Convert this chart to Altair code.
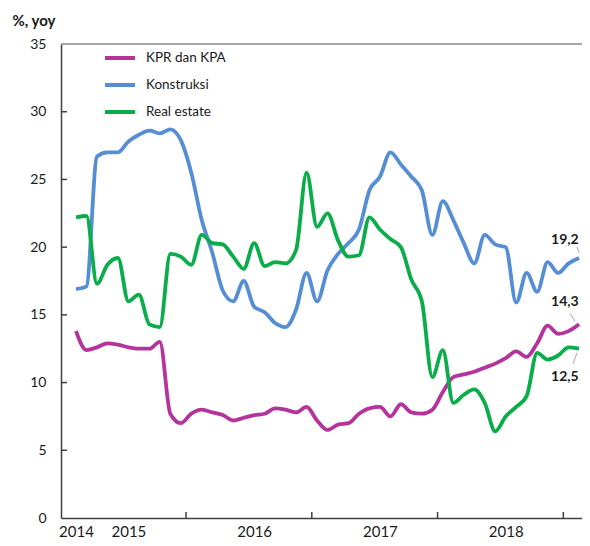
import altair as alt
import pandas as pd

# Monthly index: 0 = Aug 2014 ... 48 = Aug 2018
months = list(range(49))

kpr = [13.8, 12.4, 12.6, 12.9, 12.8, 12.6, 12.5, 12.5, 13.0, 7.7, 7.0, 7.7,
       8.0, 7.8, 7.6, 7.2, 7.4, 7.6, 7.7, 8.1, 8.0, 7.8, 8.2, 7.2, 6.5,
       6.9, 7.0, 7.7, 8.1, 8.2, 7.5, 8.4, 7.8, 7.7, 8.0, 9.3, 10.4,
       10.6, 10.8, 11.1, 11.4, 11.8, 12.3, 11.9, 12.9, 14.2, 13.6, 13.8, 14.3]

konstruksi = [16.9, 17.1, 26.7, 27.0, 27.0, 27.8, 28.3, 28.6, 28.4, 28.7, 27.9,
              25.5, 22.0, 19.6, 16.8, 16.0, 17.5, 15.6, 15.2, 14.4, 14.1, 15.4, 18.1, 16.0, 18.3,
              19.5, 20.3, 21.3, 24.2, 25.2, 27.0, 26.1, 25.2, 24.2, 20.9, 23.4, 22.0,
              20.3, 18.8, 20.9, 20.2, 20.0, 15.9, 18.1, 16.7, 18.9, 18.1, 18.8, 19.2]

real_estate = [22.2, 22.3, 17.3, 18.7, 19.2, 16.0, 16.5, 14.3, 14.1, 19.5, 19.3, 18.7,
               20.9, 20.3, 20.2, 19.3, 18.4, 20.3, 18.6, 18.9, 18.8, 19.8, 25.5, 21.5, 22.5,
               20.5, 19.3, 19.4, 22.2, 21.3, 20.6, 20.0, 17.6, 16.0, 10.4, 12.4, 8.5,
               9.1, 9.5, 8.5, 6.4, 7.5, 8.2, 9.0, 12.2, 11.7, 12.0, 12.6, 12.5]

series_names = ["KPR dan KPA", "Konstruksi", "Real estate"]
series_colors = ["#B5339C", "#558ED5", "#0BAD4A"]

year_labels = ["2014", "2015", "2016", "2017", "2018"]
year_label_pos = [0, 5, 17, 29, 41]
year_tick_pos = [10.5, 22.5, 34.5, 46.5]
y_ticks = [0, 5, 10, 15, 20, 25, 30, 35]

end_labels = ["19,2", "14,3", "12,5"]
end_values = [19.2, 14.3, 12.5]
end_series = ["Konstruksi", "KPR dan KPA", "Real estate"]

FONT = "Lato"
TXT = "#1a1a1a"
W, H = 521, 474
X_DOMAIN = [-1.43, 48.28]

df = pd.DataFrame({
    "t": months * 3,
    "value": kpr + konstruksi + real_estate,
    "series": [s for s, vals in zip(series_names, [kpr, konstruksi, real_estate]) for _ in vals],
})

label_map = "{" + ",".join(f"'{p}':'{l}'" for p, l in zip(year_label_pos, year_labels)) + "}"

x_enc = alt.X("t:Q", scale=alt.Scale(domain=X_DOMAIN, nice=False, zero=False),
              axis=alt.Axis(values=year_label_pos, labelExpr=f"{label_map}[datum.value] || ''",
                            title=None, grid=False, ticks=False, tickSize=0,
                            domainColor="#404040", domainWidth=1.5,
                            labelFont=FONT, labelFontSize=15, labelColor=TXT,
                            labelPadding=6, labelOverlap=False, labelFlush=False))
y_enc = alt.Y("value:Q", scale=alt.Scale(domain=[0, 35], nice=False),
              axis=alt.Axis(values=y_ticks, title="%, yoy", grid=False, ticks=False, tickSize=0,
                            domainColor="#404040", domainWidth=1.5,
                            labelFont=FONT, labelFontSize=14, labelColor=TXT, labelPadding=15,
                            titleAngle=0, titleAlign="left", titleBaseline="middle",
                            titleX=-49, titleY=-24, titleFont=FONT, titleFontSize=15,
                            titleFontWeight="bold", titleColor=TXT))

lines = alt.Chart(df).mark_line(strokeWidth=3.8, interpolate="monotone").encode(
    x=x_enc,
    y=y_enc,
    color=alt.Color("series:N",
                    scale=alt.Scale(domain=series_names, range=series_colors),
                    legend=alt.Legend(orient="none", legendX=42, legendY=6, title=None,
                                      symbolType="stroke", symbolSize=900, symbolStrokeWidth=4,
                                      clipHeight=16, rowPadding=11, labelOffset=9, padding=0,
                                      labelFont=FONT, labelFontSize=13.5, labelColor=TXT)),
    detail="series:N",
)

xticks = alt.Chart(pd.DataFrame({"t": year_tick_pos})).mark_rule(
    color="#404040", strokeWidth=1.5, y2Offset=-6).encode(
    x="t:Q", y=alt.datum(0), y2=alt.datum(0))

yticks = alt.Chart(pd.DataFrame({"value": y_ticks[1:-1]})).mark_rule(
    color="#404040", strokeWidth=1.5).encode(
    y="value:Q", x=alt.value(0), x2=alt.value(6))

top_border = alt.Chart(pd.DataFrame({"value": [35]})).mark_rule(
    color="#8a8a8a", strokeWidth=1.5).encode(
    y="value:Q", x=alt.value(0), x2=alt.value(W))

end_df = pd.DataFrame({"t": [months[-1]] * 3, "value": end_values,
                       "label": end_labels, "series": end_series})

label_offsets = {"19,2": (-28, -18), "14,3": (-28, -22), "12,5": (-28, 28)}
leader_offsets = {"19,2": (-2, -11, 0, -5), "14,3": (-9, -11, -4, -3), "12,5": (-2, 4, -6, 15)}

label_layers = []
for lab in end_labels:
    sub = end_df[end_df["label"] == lab]
    dx, dy = label_offsets[lab]
    label_layers.append(
        alt.Chart(sub).mark_text(align="left", baseline="middle", dx=dx, dy=dy,
                                 font=FONT, fontSize=14, fontWeight="bold", color=TXT).encode(
            x="t:Q", y="value:Q", text="label:N"))
    x1, y1, x2, y2 = leader_offsets[lab]
    label_layers.append(
        alt.Chart(sub).mark_rule(color="#a6a6a6", strokeWidth=1,
                                 xOffset=x1, yOffset=y1, x2Offset=x2, y2Offset=y2).encode(
            x="t:Q", x2="t:Q", y="value:Q", y2="value:Q"))

chart = alt.layer(top_border, xticks, yticks, lines, *label_layers).properties(
    width=W, height=H,
    autosize=alt.AutoSizeParams(type="none"),
    padding={"left": 53, "top": 36, "right": 0, "bottom": 20},
    background="white",
).configure_view(strokeWidth=0)

chart.save("out.html", embed_options={"renderer": "svg", "actions": False})
